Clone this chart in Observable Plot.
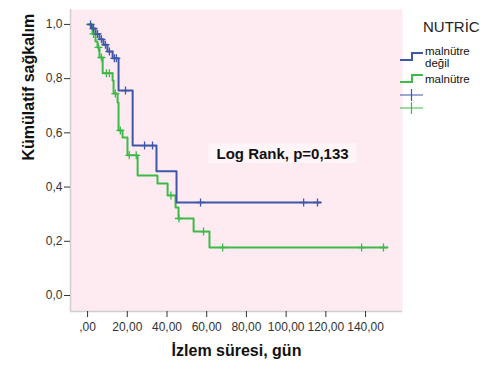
<!DOCTYPE html>
<html>
<head>
<meta charset="utf-8">
<script src="https://cdn.jsdelivr.net/npm/d3@7"></script>
<script src="https://cdn.jsdelivr.net/npm/@observablehq/plot@0.6"></script>
<style>
  body { margin: 0; background: #fff; }
  #chart svg { font-family: "Liberation Sans", Arial, sans-serif; display: block; }
</style>
</head>
<body>
<div id="chart"></div>
<script>
// ---- Data ----
const groupNames = ["malnütre değil", "malnütre"];
const legendTitle = "NUTRİC";
const xTitle = "İzlem süresi, gün";
const yTitle = "Kümülatif sağkalım";
const annotationText = "Log Rank, p=0,133";

const xTicks = [0, 20, 40, 60, 80, 100, 120, 140];
const xTickLabels = [",00", "20,00", "40,00", "60,00", "80,00", "100,00", "120,00", "140,00"];
const yTicks = [0, 0.2, 0.4, 0.6, 0.8, 1.0];
const yTickLabels = ["0,0", "0,2", "0,4", "0,6", "0,8", "1,0"];

// malnütre değil (blue)
const blueTimes = [1, 2, 4, 6, 8, 10, 12.6, 15.6, 22.7, 34.7, 44.8, 117.3];
const blueSurv  = [1.0, 0.985, 0.965, 0.945, 0.925, 0.90, 0.875, 0.756, 0.553, 0.458, 0.343, 0.343];
const blueCensorTimes = [1.5, 3, 5, 7, 9, 11, 13.5, 14.5, 19.1, 28.7, 32.7, 56.9, 108.8, 115.8];
const blueCensorSurv  = [1.0, 0.985, 0.965, 0.945, 0.925, 0.90, 0.875, 0.875, 0.756, 0.553, 0.553, 0.343, 0.343, 0.343];

// malnütre (green)
const greenTimes = [0, 2.5, 4, 5, 6, 7.6, 12.6, 13.1, 15.1, 15.6, 17.6, 20.1, 25.2, 35.2, 40.3, 44.3, 45.8, 53.4, 61.4, 151];
const greenSurv  = [1.0, 0.965, 0.937, 0.915, 0.878, 0.82, 0.793, 0.745, 0.712, 0.609, 0.583, 0.517, 0.443, 0.413, 0.369, 0.325, 0.284, 0.236, 0.177, 0.177];
const greenCensorTimes = [3, 5.5, 7, 9.5, 11, 14, 16.5, 21, 24.5, 42, 46, 58.4, 68, 138, 149];
const greenCensorSurv  = [0.965, 0.915, 0.878, 0.82, 0.82, 0.745, 0.609, 0.517, 0.517, 0.369, 0.284, 0.236, 0.177, 0.177, 0.177];

// ---- Styling ----
const colors = ["#3f57a8", "#3dba48"];
const xDomain = [-8.6, 158.6];
const yDomain = [-0.059, 1.055];

const toRows = (ts, ss, g) => ts.map((t, i) => ({t, s: ss[i], g}));
const blueSteps = toRows(blueTimes, blueSurv, groupNames[0]);
const greenSteps = toRows(greenTimes, greenSurv, groupNames[1]);
const blueCens = toRows(blueCensorTimes, blueCensorSurv, groupNames[0]);
const greenCens = toRows(greenCensorTimes, greenCensorSurv, groupNames[1]);

const crossSymbol = {
  draw(ctx, size) {
    const r = Math.sqrt(size / Math.PI);
    ctx.moveTo(-r, 0); ctx.lineTo(r, 0);
    ctx.moveTo(0, -r); ctx.lineTo(0, r);
  }
};

const plot = Plot.plot({
  width: 482,
  height: 371,
  marginLeft: 70,
  marginRight: 80,
  marginTop: 9,
  marginBottom: 60,
  x: {domain: xDomain},
  y: {domain: yDomain},
  style: {fontFamily: '"Liberation Sans", Arial, sans-serif', fontSize: "12px", color: "#333", background: "#fff"},
  marks: [
    Plot.frame({fill: "#fdebf1", stroke: null}),
    Plot.ruleX([xDomain[0]], {stroke: "#cfcfcf", strokeWidth: 1.5}),
    Plot.ruleY([yDomain[0]], {stroke: "#cfcfcf", strokeWidth: 1.5}),
    Plot.axisY({ticks: yTicks, tickFormat: d => yTickLabels[yTicks.indexOf(d)], tickSize: 6, tickPadding: 2, stroke: "#333", fill: "#333", label: null}),
    Plot.axisX({ticks: xTicks, tickFormat: d => xTickLabels[xTicks.indexOf(d)], tickSize: 6, tickPadding: 5, stroke: "#333", fill: "#333", label: null}),
    Plot.line(greenSteps, {x: "t", y: "s", curve: "step-after", stroke: colors[1], strokeWidth: 2}),
    Plot.line(blueSteps, {x: "t", y: "s", curve: "step-after", stroke: colors[0], strokeWidth: 2}),
    Plot.dot(greenCens, {x: "t", y: "s", symbol: crossSymbol, r: 4, stroke: colors[1], strokeWidth: 1.3, fill: "none"}),
    Plot.dot(blueCens, {x: "t", y: "s", symbol: crossSymbol, r: 4, stroke: colors[0], strokeWidth: 1.3, fill: "none"}),
    Plot.text([annotationText], {frameAnchor: "top-left", dx: 146, dy: 139, textAnchor: "start", fontWeight: "bold", fontSize: 15, fill: "#111", className: "annot"}),
    Plot.text([xTitle], {frameAnchor: "bottom", dy: 44, fontWeight: "bold", fontSize: 16, fill: "#111"}),
    Plot.text([yTitle], {frameAnchor: "left", dx: -42, rotate: -90, fontWeight: "bold", fontSize: 16, fill: "#111"})
  ]
});

document.getElementById("chart").appendChild(plot);

// Annotation box behind the log-rank text
const svg = d3.select(plot);
const annotG = svg.select("g.annot");
if (!annotG.empty()) {
  const sr = plot.getBoundingClientRect();
  const tr = annotG.select("text").node().getBoundingClientRect();
  svg.insert("rect", () => annotG.node())
    .attr("x", tr.left - sr.left - 8).attr("y", tr.top - sr.top - 2)
    .attr("width", tr.width + 16).attr("height", tr.height + 3)
    .attr("fill", "#fff5f8");
}

// Legend
const lg = svg.append("g")
  .attr("font-family", '"Liberation Sans", Arial, sans-serif')
  .attr("text-anchor", "start");
lg.append("text").attr("x", 423).attr("y", 27).attr("dy", "0.35em")
  .attr("font-size", 15).attr("fill", "#222").text(legendTitle);
const stepPath = (x0, yLow, yHigh) => `M${x0},${yLow}H${x0 + 12}V${yHigh}H${x0 + 23}`;
lg.append("path").attr("d", stepPath(400, 60, 53)).attr("fill", "none").attr("stroke", colors[0]).attr("stroke-width", 2);
lg.append("path").attr("d", stepPath(400, 82, 75)).attr("fill", "none").attr("stroke", colors[1]).attr("stroke-width", 2);
const nameParts = groupNames[0].split(" ");
lg.append("text").attr("x", 425).attr("y", 51).attr("dy", "0.35em").attr("font-size", 11.5).attr("fill", "#111").text(nameParts[0]);
lg.append("text").attr("x", 425).attr("y", 63).attr("dy", "0.35em").attr("font-size", 11.5).attr("fill", "#111").text(nameParts[1]);
lg.append("text").attr("x", 425).attr("y", 79).attr("dy", "0.35em").attr("font-size", 11.5).attr("fill", "#111").text(groupNames[1]);
[[95, colors[0]], [108, colors[1]]].forEach(([y, c]) => {
  lg.append("path").attr("d", `M400,${y}H423M411.5,${y - 6}V${y + 6}`).attr("stroke", c).attr("stroke-width", 1.2).attr("fill", "none");
});
</script>
</body>
</html>
